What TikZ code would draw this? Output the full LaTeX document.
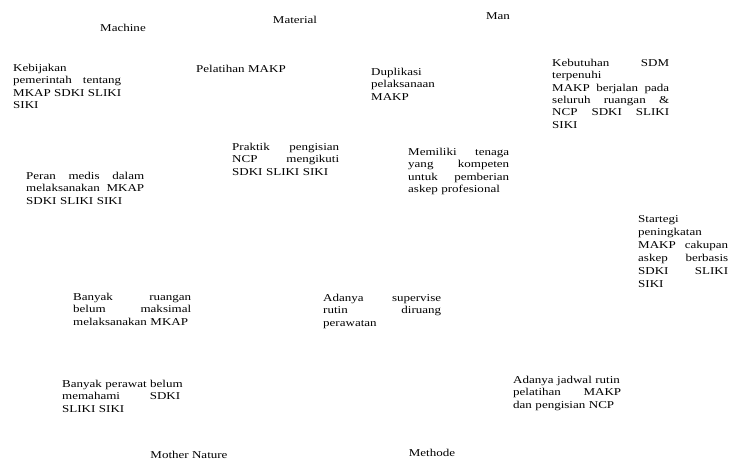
\documentclass[tikz,border=0pt]{standalone}
\usepackage{fontspec}
\setmainfont{Liberation Serif}[FakeStretch=1.24]
\begin{document}
\begin{tikzpicture}[x=1pt,y=-1pt,
  every node/.style={inner sep=0pt, font=\fontsize{10.5}{12.3}\selectfont},
  head/.style={anchor=base},
  blk/.style={anchor=base west, align=left, text width=#1}]
\fill[white] (0,0) rectangle (731,466);
\useasboundingbox (0,0) rectangle (731,466);
% category headings
\node[head] (machine) at (123,31) {Machine};
\node[head] (material) at (295,23) {Material};
\node[head] (man) at (498,19) {Man};
\node[head] (nature) at (189,458) {Mother Nature};
\node[head] (methode) at (432,456) {Methode};
% causes
\node[blk=108] (kebijakan) at (13,71.5) {Kebijakan\\ pemerintah\hfill tentang\\ MKAP\hfill SDKI\hfill SLIKI\\ SIKI};
\node[blk=95] (pelatihan) at (196,72.5) {Pelatihan MAKP};
\node[blk=80] (duplikasi) at (371,75.5) {Duplikasi\\ pelaksanaan\\ MAKP};
\node[blk=117] (kebutuhan) at (552,66.5) {Kebutuhan\hfill SDM\\ terpenuhi\\ MAKP\hfill berjalan\hfill pada\\ seluruh\hfill ruangan\hfill \&\\ NCP\hfill SDKI\hfill SLIKI\\ SIKI};
\node[blk=107] (praktik) at (232,150.5) {Praktik\hfill pengisian\\ NCP\hfill mengikuti\\ SDKI SLIKI SIKI};
\node[blk=101] (memiliki) at (408,155.5) {Memiliki\hfill tenaga\\ yang\hfill kompeten\\ untuk\hfill pemberian\\ askep profesional};
\node[blk=118] (peran) at (26,179.5) {Peran\hfill medis\hfill dalam\\ melaksanakan\hfill MKAP\\ SDKI SLIKI SIKI};
\node[blk=90, font=\fontsize{10.5}{13}\selectfont] (startegi) at (638,222.5) {Startegi\\ peningkatan\\ MAKP\hfill cakupan\\ askep\hfill berbasis\\ SDKI\hfill SLIKI\\ SIKI};
\node[blk=118] (ruangan) at (73,300.5) {Banyak\hfill ruangan\\ belum\hfill maksimal\\ melaksanakan MKAP};
\node[blk=118] (supervise) at (323,301.5) {Adanya\hfill supervise\\ rutin\hfill diruang\\ perawatan};
\node[blk=118] (perawat) at (62,387.5) {\makebox[118pt][s]{Banyak perawat belum}\\ memahami\hfill SDKI\\ SLIKI SIKI};
\node[blk=108] (jadwal) at (513,383.5) {Adanya jadwal rutin\\ pelatihan\hfill MAKP\\ dan pengisian NCP};
\end{tikzpicture}
\end{document}
